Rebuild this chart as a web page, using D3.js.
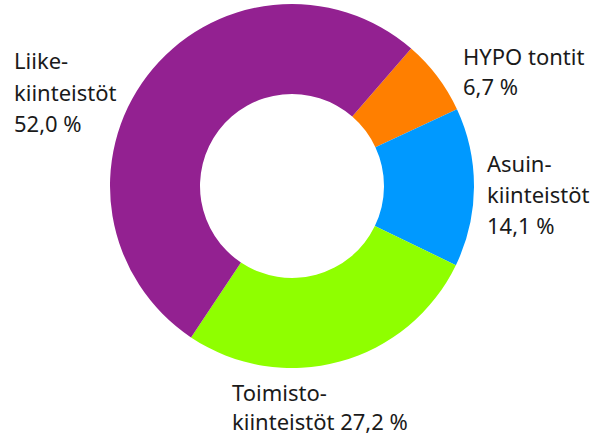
<!DOCTYPE html>
<html>
<head>
<meta charset="utf-8">
<script src="https://cdn.jsdelivr.net/npm/d3@7"></script>
<style>
  body { margin: 0; background: #fff; }
  text { font-family: "Noto Sans", sans-serif; font-size: 22px; fill: #1a1a1a; }
</style>
</head>
<body>
<div id="chart"></div>
<script>
    'use strict';

    var categories = ['HYPO tontit', 'Asuinkiinteistöt', 'Toimistokiinteistöt', 'Liikekiinteistöt'],
        shares = [6.7, 14.1, 27.2, 52.0],
        colors = ['#ff7f00', '#0099ff', '#8fff00', '#932191'],
        // label lines, value goes in place of {v}
        labelLines = [
            ['HYPO tontit', '{v}'],
            ['Asuin-', 'kiinteistöt', '{v}'],
            ['Toimisto-', 'kiinteistöt {v}'],
            ['Liike-', 'kiinteistöt', '{v}']
        ],
        labelPos = [
            { x: 463, y: 65, dy: 30 },
            { x: 487, y: 172, dy: 31 },
            { x: 232, y: 401, dy: 29 },
            { x: 14, y: 69, dy: 31.5 }
        ];

    var width = 597,
        height = 437,
        cx = 292,
        cy = 186,
        outerR = 182,
        innerR = 92,
        startAngle = 40.9 * Math.PI / 180;

    var fmt = function (v) {
        return d3.format('.1f')(v).replace('.', ',') + ' %';
    };

    var data = categories.map(function (c, i) {
        return { name: c, value: shares[i], color: colors[i], lines: labelLines[i], pos: labelPos[i] };
    });

    var pie = d3.pie()
        .sort(null)
        .value(function (d) { return d.value; })
        .startAngle(startAngle)
        .endAngle(startAngle + 2 * Math.PI);

    var arc = d3.arc()
        .innerRadius(innerR)
        .outerRadius(outerR);

    var svg = d3.select('#chart').append('svg')
        .attr('width', width)
        .attr('height', height);

    svg.append('g')
        .attr('transform', 'translate(' + cx + ',' + cy + ')')
        .selectAll('path')
        .data(pie(data))
        .enter()
        .append('path')
        .attr('d', arc)
        .attr('fill', function (d) { return d.data.color; });

    var labels = svg.selectAll('.label')
        .data(data)
        .enter()
        .append('text')
        .attr('class', 'label');

    labels.each(function (d) {
        var t = d3.select(this);
        d.lines.forEach(function (line, i) {
            t.append('tspan')
                .attr('x', d.pos.x)
                .attr('y', d.pos.y + i * d.pos.dy)
                .text(line.replace('{v}', fmt(d.value)));
        });
    });
</script>
</body>
</html>
